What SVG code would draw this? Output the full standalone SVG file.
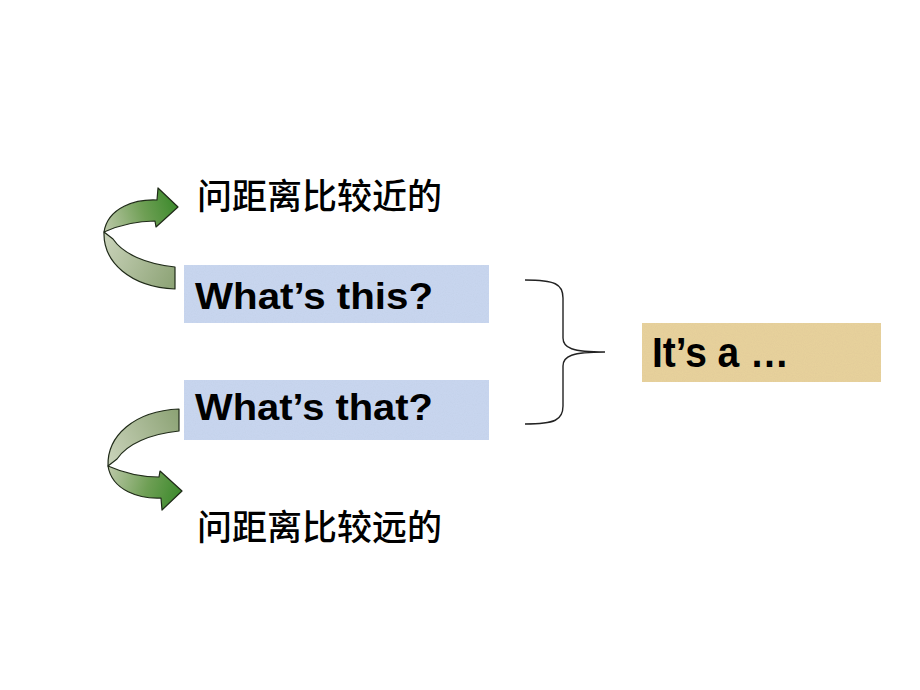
<svg xmlns="http://www.w3.org/2000/svg" width="920" height="690" viewBox="0 0 920 690">
  <defs>
    <linearGradient id="frontFace" x1="105" y1="230" x2="178" y2="207" gradientUnits="userSpaceOnUse">
      <stop offset="0" stop-color="#bcc8a8"/>
      <stop offset="0.55" stop-color="#6f9f55"/>
      <stop offset="1" stop-color="#3c8a2c"/>
    </linearGradient>
    <linearGradient id="backFace" x1="105" y1="245" x2="175" y2="280" gradientUnits="userSpaceOnUse">
      <stop offset="0" stop-color="#c6d0b6"/>
      <stop offset="1" stop-color="#8ea477"/>
    </linearGradient>
    <filter id="grain" x="0" y="0" width="100%" height="100%">
      <feTurbulence type="fractalNoise" baseFrequency="0.9" numOctaves="2" seed="3" result="n"/>
      <feColorMatrix in="n" type="matrix" values="0 0 0 0 0  0 0 0 0 0  0 0 0 0 0  0 0 0 0.07 0" result="a"/>
      <feComposite in="a" in2="SourceGraphic" operator="in" result="b"/>
      <feMerge><feMergeNode in="SourceGraphic"/><feMergeNode in="b"/></feMerge>
    </filter>
    <g id="curlArrow">
      <path class="back" d="M104,232 C103,262 130,287 175,289 L175,267 C146,264 123,254 113,239 Z"/>
      <path class="front" d="M157,200 C136,199 108,207 104,232 C113,228 132,221 155,221 L156,227 L178,207 L158,188 Z"/>
    </g>
  </defs>
  <style>
    .back { fill: url(#backFace); stroke: #1f2a18; stroke-width: 1.2; stroke-linejoin: round; }
    .front { fill: url(#frontFace); stroke: #1f2a18; stroke-width: 1.2; stroke-linejoin: round; }
    .blue { fill: #cad8f1; }
    .tan { fill: #e9d39e; }
    .en { font-family: "Liberation Sans", Arial, sans-serif; font-weight: bold; fill: #000; }
    .zh { font-family: "Noto Sans CJK SC", "Noto Sans", sans-serif; font-weight: 500; font-size: 35px; fill: #000; }
    .brace { fill: none; stroke: #222; stroke-width: 1.4; }
  </style>
  <rect width="920" height="690" fill="#ffffff"/>

  <g id="label-near">
    <text class="zh" x="197" y="209">问距离比较近的</text>
  </g>

  <g id="node-this">
    <rect class="blue" x="184" y="265" width="305" height="58" filter="url(#grain)"/>
    <text class="en" x="195" y="309" font-size="36" textLength="238" lengthAdjust="spacingAndGlyphs">What’s this?</text>
  </g>

  <g id="node-that">
    <rect class="blue" x="184" y="380" width="305" height="60" filter="url(#grain)"/>
    <text class="en" x="195" y="420" font-size="36" textLength="238" lengthAdjust="spacingAndGlyphs">What’s that?</text>
  </g>

  <g id="label-far">
    <text class="zh" x="197" y="540">问距离比较远的</text>
  </g>

  <g id="node-answer">
    <rect class="tan" x="642" y="323" width="239" height="59" filter="url(#grain)"/>
    <text class="en" x="652" y="367" font-size="42" textLength="137" lengthAdjust="spacingAndGlyphs">It’s a …</text>
  </g>

  <g id="connectors">
    <use href="#curlArrow"/>
    <use href="#curlArrow" transform="translate(4,698) scale(1,-1)"/>
    <path class="brace" d="M525,280 C555,280 563,284 563,298 L563,338 C563,348 572,352 605,352 C572,352 563,356 563,366 L563,406 C563,420 555,424 525,424"/>
  </g>
</svg>
